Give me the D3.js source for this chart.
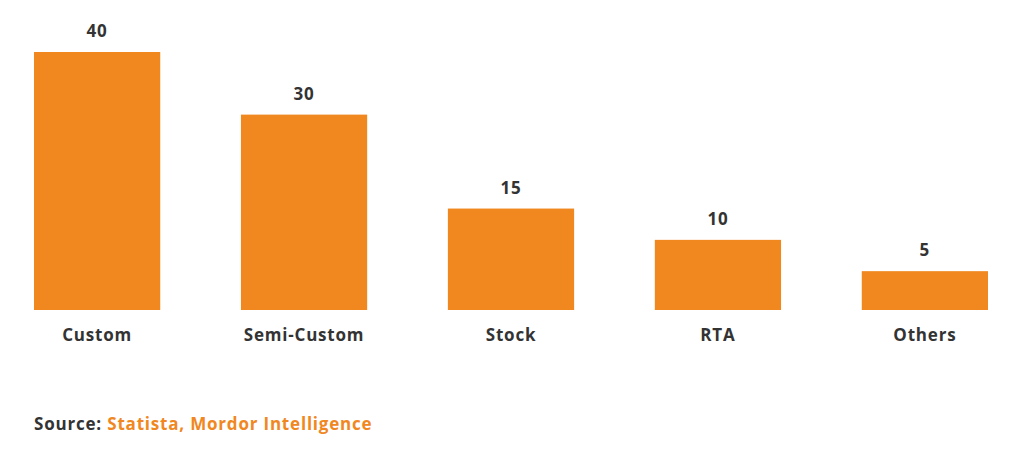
<!DOCTYPE html>
<html><head><meta charset="utf-8">
<script src="https://cdn.jsdelivr.net/npm/d3@7"></script>
<style>html,body{margin:0;padding:0;background:#fff;}svg{display:block;}</style>
</head><body>
<svg id="chart" width="1024" height="452"></svg>
<script>
const categories = ["Custom", "Semi-Custom", "Stock", "RTA", "Others"];
const values = [40, 30, 15, 10, 5];
const sourceLabel = "Source: ";
const sourceText = "Statista, Mordor Intelligence";

const svg = d3.select("#chart");
const font = "'Open Sans', sans-serif";
const orange = "#F0871F";
const dark = "#333333";

const x = d3.scaleBand().domain(categories).range([34, 988]).paddingInner(0.39).paddingOuter(0);
const y = d3.scaleLinear().domain([-1.2, 40]).range([310, 52]);

svg.selectAll("rect.bar").data(values).join("rect")
  .attr("class", "bar")
  .attr("x", (d, i) => x(categories[i]))
  .attr("width", x.bandwidth())
  .attr("y", d => y(d))
  .attr("height", d => y(-1.2) - y(d))
  .attr("fill", orange);

svg.selectAll("text.val").data(values).join("text")
  .attr("class", "val")
  .attr("x", (d, i) => x(categories[i]) + x.bandwidth() / 2)
  .attr("y", d => y(d) - 15)
  .attr("text-anchor", "middle")
  .attr("font-family", font).attr("font-weight", 700).attr("font-size", 17)
  .attr("letter-spacing", 0.8)
  .attr("fill", dark)
  .text(d => d);

const xAxis = d3.axisBottom(x).tickSize(0).tickPadding(0);
const gx = svg.append("g").attr("transform", "translate(0,329)").call(xAxis);
gx.select(".domain").remove();
gx.selectAll("text")
  .attr("font-family", font).attr("font-weight", 700).attr("font-size", 17)
  .attr("letter-spacing", 0.8)
  .attr("fill", dark);

const src = svg.append("text").attr("x", 34).attr("y", 430)
  .attr("font-family", font).attr("font-weight", 700).attr("font-size", 17)
  .attr("letter-spacing", 0.8);
src.append("tspan").attr("fill", dark).text(sourceLabel);
src.append("tspan").attr("fill", orange).text(sourceText);
</script>
</body></html>
